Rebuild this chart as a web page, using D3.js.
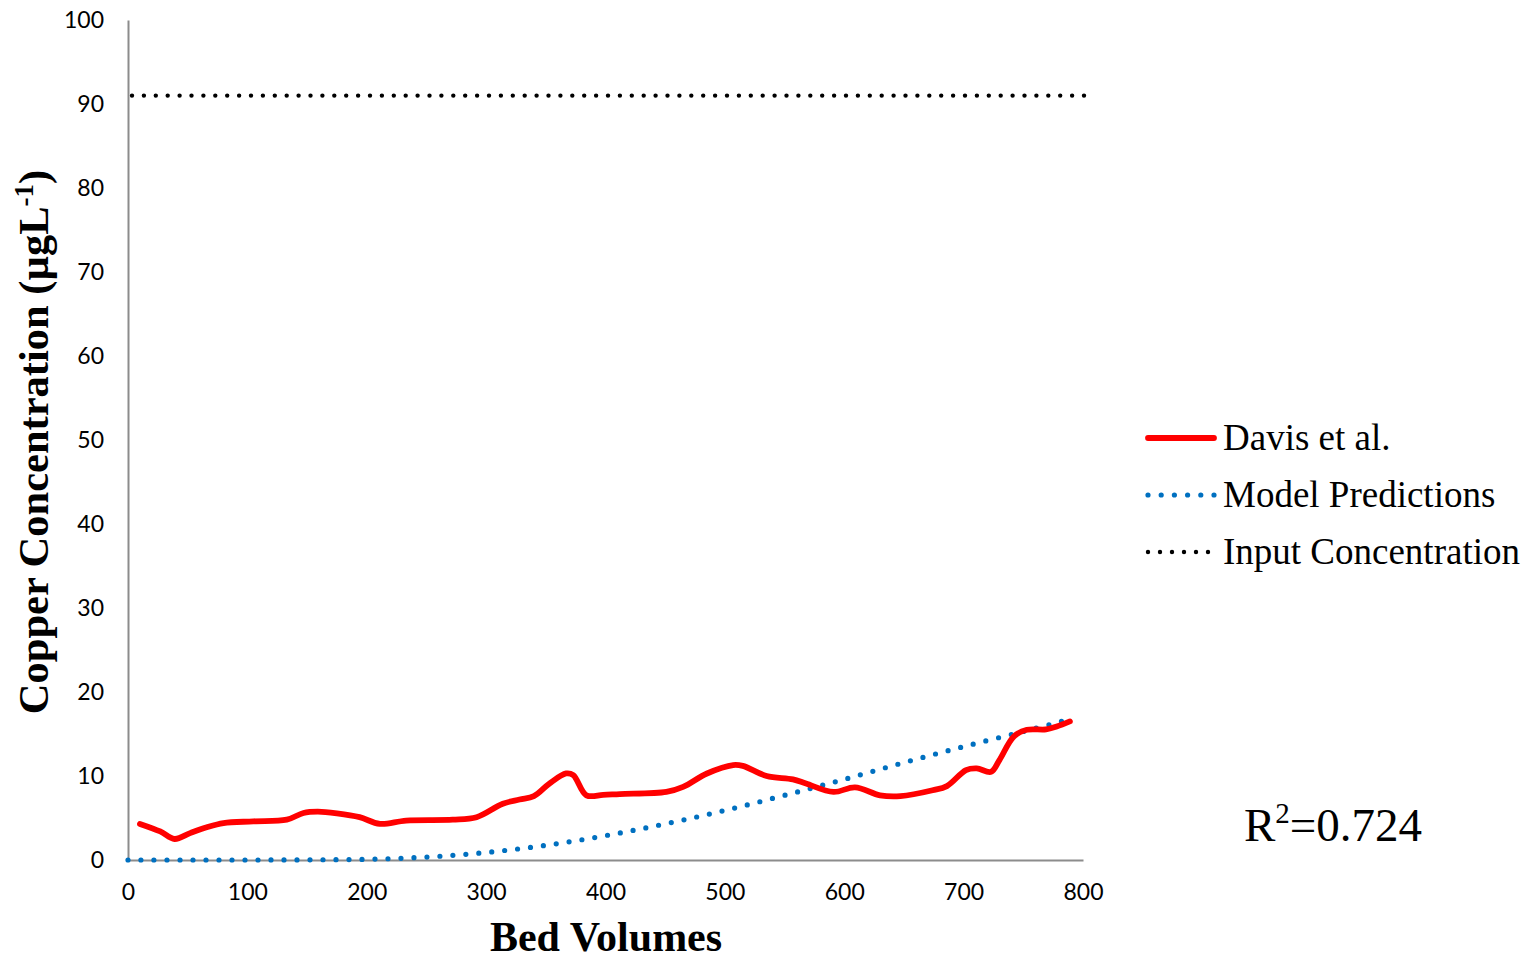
<!DOCTYPE html>
<html>
<head>
<meta charset="utf-8">
<script src="https://cdn.jsdelivr.net/npm/d3@7/dist/d3.min.js"></script>
<style>
  html, body { margin: 0; padding: 0; background: #fff; }
  svg { display: block; }
</style>
</head>
<body>
<svg id="chart" width="1539" height="961"></svg>
<script>
// Measured effluent copper (Davis et al.)
const davisBV = [10, 27, 39, 52, 66, 80, 105, 133, 147, 159, 175, 194, 211, 233, 272, 292, 314, 328, 340, 353, 367, 373, 384, 398, 412, 451, 465, 485, 507, 515, 535, 557, 568, 591, 609, 630, 647, 674, 686, 702, 711, 723, 730, 742, 753, 769, 778, 789];
const davisCu = [4.3, 3.4, 2.5, 3.2, 3.9, 4.4, 4.6, 4.8, 5.6, 5.75, 5.55, 5.1, 4.3, 4.7, 4.8, 5.1, 6.7, 7.2, 7.6, 9.1, 10.3, 10.1, 7.7, 7.75, 7.85, 8.1, 8.7, 10.3, 11.3, 11.2, 10.0, 9.6, 9.1, 8.1, 8.65, 7.7, 7.6, 8.3, 8.8, 10.7, 10.9, 10.5, 11.9, 14.7, 15.5, 15.55, 15.9, 16.5];

// Model breakthrough curve
const modelBV = [0, 50, 100, 150, 200, 250, 300, 350, 400, 450, 500, 550, 600, 650, 700, 750, 790];
const modelCu = [0, 0, 0, 0.02, 0.08, 0.35, 0.9, 1.75, 2.9, 4.3, 5.9, 7.7, 9.6, 11.6, 13.5, 15.3, 16.8];

// Influent concentration
const inputBV = [0, 800];
const inputCu = [91, 91];

const xTicks = [0, 100, 200, 300, 400, 500, 600, 700, 800];
const yTicks = [0, 10, 20, 30, 40, 50, 60, 70, 80, 90, 100];

const seriesNames = ["Davis et al.", "Model Predictions", "Input Concentration"];
const rSquared = "0.724";

const svg = d3.select("#chart");

const x = d3.scaleLinear().domain([0, 800]).range([128, 1083]);
const y = d3.scaleLinear().domain([0, 100]).range([860, 20]);

const tickFont = "Lato, 'Open Sans', sans-serif";
const serif = "'Liberation Serif', 'Times New Roman', serif";

// Axes (no tick marks, gray domain line)
const xAxis = svg.append("g")
  .attr("transform", `translate(0,${y(0)})`)
  .call(d3.axisBottom(x).tickValues(xTicks).tickSize(0).tickPadding(24).tickFormat(d3.format("d")));
xAxis.select(".domain").attr("stroke", "#8c8c8c").attr("stroke-width", 2);
xAxis.selectAll("text").attr("font-family", tickFont).attr("font-size", 23).attr("fill", "#000");

const yAxis = svg.append("g")
  .attr("transform", `translate(${x(0)},0)`)
  .call(d3.axisLeft(y).tickValues(yTicks).tickSize(0).tickPadding(24).tickFormat(d3.format("d")));
yAxis.select(".domain").attr("stroke", "#8c8c8c").attr("stroke-width", 2);
yAxis.selectAll("text").attr("font-family", tickFont).attr("font-size", 23).attr("fill", "#000");

// Lines
const pts = (xs, ys) => xs.map((v, i) => [v, ys[i]]);
const smooth = d3.line().x(d => x(d[0])).y(d => y(d[1])).curve(d3.curveCatmullRom.alpha(0.5));
const straight = d3.line().x(d => x(d[0])).y(d => y(d[1]));

svg.append("path")
  .attr("d", straight(pts(inputBV, inputCu)))
  .attr("fill", "none").attr("stroke", "#000").attr("stroke-width", 4.4)
  .attr("stroke-linecap", "round").attr("stroke-dasharray", "0 11.9")
  .attr("transform", "translate(4,0)");

svg.append("path")
  .attr("d", smooth(pts(modelBV, modelCu)))
  .attr("fill", "none").attr("stroke", "#0070C0").attr("stroke-width", 5.2)
  .attr("stroke-linecap", "round").attr("stroke-dasharray", "0 13");

svg.append("path")
  .attr("d", smooth(pts(davisBV, davisCu)))
  .attr("fill", "none").attr("stroke", "#FF0000").attr("stroke-width", 5.8)
  .attr("stroke-linecap", "round").attr("stroke-linejoin", "round");

// Axis titles
svg.append("text")
  .attr("x", 606).attr("y", 951)
  .attr("text-anchor", "middle")
  .attr("font-family", serif).attr("font-weight", "bold").attr("font-size", 42)
  .text("Bed Volumes");

const yt = svg.append("text")
  .attr("transform", "translate(48,442) rotate(-90)")
  .attr("text-anchor", "middle")
  .attr("font-family", serif).attr("font-weight", "bold").attr("font-size", 42.5);
yt.append("tspan").text("Copper Concentration (µgL");
yt.append("tspan").attr("dy", -15).attr("font-size", 27).text("-1");
yt.append("tspan").attr("dy", 15).text(")");

// Legend
const legend = svg.append("g");
const rowsY = [438, 495, 552];
const styles = [
  { stroke: "#FF0000", w: 5.8, dash: null, x1: 1148, x2: 1214 },
  { stroke: "#0070C0", w: 5.2, dash: "0 13.2", x1: 1148, x2: 1215 },
  { stroke: "#000", w: 4.4, dash: "0 12", x1: 1148, x2: 1210 }
];
seriesNames.forEach((name, i) => {
  const s = styles[i];
  legend.append("line")
    .attr("x1", s.x1).attr("x2", s.x2).attr("y1", rowsY[i]).attr("y2", rowsY[i])
    .attr("stroke", s.stroke).attr("stroke-width", s.w)
    .attr("stroke-linecap", "round")
    .attr("stroke-dasharray", s.dash);
  legend.append("text")
    .attr("x", 1223).attr("y", rowsY[i] + 12)
    .attr("font-family", serif).attr("font-size", 37)
    .text(name);
});

// Goodness of fit
const r2 = svg.append("text")
  .attr("x", 1244).attr("y", 841)
  .attr("font-family", serif).attr("font-size", 47);
r2.append("tspan").text("R");
r2.append("tspan").attr("dy", -18).attr("font-size", 29).text("2");
r2.append("tspan").attr("dy", 18).text("=" + rSquared);
</script>
</body>
</html>
